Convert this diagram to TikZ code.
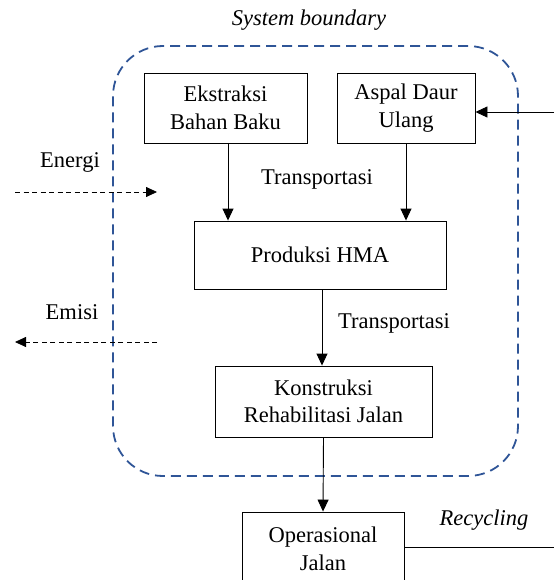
\documentclass[tikz,border=0pt]{standalone}
\usepackage{fontspec}
\setmainfont{Liberation Serif}
\newfontfamily\tnr{Liberation Serif}
\usetikzlibrary{arrows.meta}
\definecolor{sbblue}{HTML}{2F5597}
\tikzset{
  every node/.style={font=\tnr\fontsize{22.5}{27.5}\selectfont},
  procbox/.style={draw, line width=0.9pt, align=center, inner sep=0pt},
  arr/.style={line width=0.9pt, -{Triangle[length=12pt,width=11pt]}},
  flowdash/.style={line width=0.8pt, dash pattern=on 5pt off 3.5pt, -{Triangle[length=11pt,width=10pt]}},
  boundary/.style={draw=sbblue, line width=1.8pt, dash pattern=on 10pt off 6pt, rounded corners=50pt},
  plainline/.style={line width=0.9pt}
}
\begin{document}
\begin{tikzpicture}[x=1pt,y=-1pt]
\useasboundingbox (0,0) rectangle (554,580);
% system boundary
\node[boundary, minimum width=405pt, minimum height=430pt] (sb) at (315.5,261) {};
\node[font=\tnr\fontsize{22.5}{27.5}\selectfont\itshape] (sblabel) at (309,20) {System boundary};
% process boxes
\node[procbox, minimum width=163pt, minimum height=70pt] (ek) at (225.5,108) {Ekstraksi\\Bahan Baku};
\node[procbox, minimum width=138pt, minimum height=70pt] (as) at (406,108) {Aspal Daur\\Ulang};
\node[procbox, minimum width=252pt, minimum height=68pt] (pr) at (320,255) {Produksi HMA};
\node[procbox, minimum width=217pt, minimum height=71pt] (ko) at (323.5,401.5) {Konstruksi\\Rehabilitasi Jalan};
\node[procbox, minimum width=162pt, minimum height=80pt] (op) at (323,552) {};
\node[align=center] (optext) at (323,549) {Operasional\\Jalan};
% labels
\node (tr1) at (317,179) {Transportasi};
\node (tr2) at (394,323) {Transportasi};
\node (en) at (70,162) {Energi};
\node (em) at (72,312) {Emisi};
\node[font=\tnr\fontsize{22.5}{27.5}\selectfont\itshape] (rc) at (484,520) {Recycling};
% coordinates
\coordinate (ein) at (15,192);
\coordinate (eout) at (157,192);
\coordinate (min) at (157,342);
\coordinate (mout) at (15,342);
\coordinate (rin) at (554,112);
\coordinate (rout) at (554,547);
\coordinate (ekx) at (228,143);
% connectors
\draw[arr] (ekx) -- (ekx |- pr.north);
\draw[arr] (as.south) -- (as.south |- pr.north);
\draw[arr] (pr.south -| 322,0) -- (ko.north -| 322,0);
\draw[arr] (ko.south) -- (op.north);
\draw[arr] (rin) -- (rin -| as.east);
\draw[plainline] (rout -| op.east) -- (rout);
\draw[flowdash] (ein) -- (eout);
\draw[flowdash] (min) -- (mout);
\end{tikzpicture}
\end{document}
